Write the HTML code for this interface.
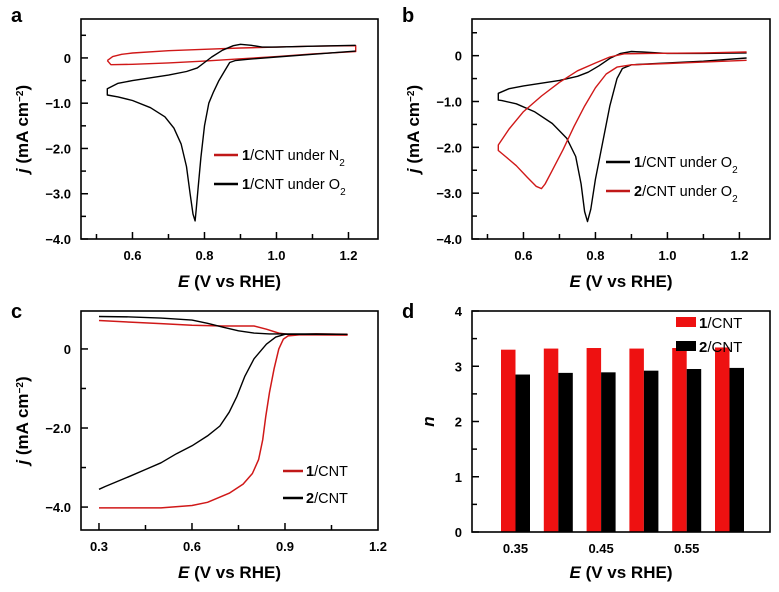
<!DOCTYPE html>
<html><head><meta charset="utf-8"><style>
body{margin:0;background:#fff}
svg text{font-family:"Liberation Sans",Arial,sans-serif}
</style></head><body>
<svg id="fig" width="779" height="587" viewBox="0 0 779 587" xmlns="http://www.w3.org/2000/svg"></svg>
<script>
// ---- data ----
const aN2=[[0.53,-0.06],[0.545,0.03],[0.57,0.08],[0.6,0.11],[0.7,0.16],[0.8,0.19],[0.9,0.22],[1.0,0.24],[1.1,0.26],[1.22,0.27],[1.22,0.14],[1.1,0.09],[1.0,0.03],[0.9,-0.02],[0.8,-0.07],[0.7,-0.11],[0.6,-0.14],[0.54,-0.15],[0.53,-0.06]];
const aO2=[[1.22,0.15],[1.1,0.08],[1.0,0.02],[0.92,-0.03],[0.885,-0.06],[0.87,-0.1],[0.855,-0.3],[0.84,-0.5],[0.825,-0.75],[0.812,-1.0],[0.8,-1.5],[0.79,-2.2],[0.782,-2.9],[0.777,-3.35],[0.774,-3.6],[0.768,-3.45],[0.76,-3.0],[0.75,-2.4],[0.735,-1.9],[0.715,-1.55],[0.69,-1.3],[0.65,-1.1],[0.6,-0.94],[0.56,-0.86],[0.53,-0.82],[0.53,-0.68],[0.56,-0.56],[0.6,-0.5],[0.65,-0.44],[0.7,-0.38],[0.75,-0.3],[0.78,-0.22],[0.8,-0.1],[0.82,0.02],[0.85,0.17],[0.88,0.27],[0.9,0.3],[0.93,0.28],[0.96,0.24],[1.0,0.24],[1.1,0.26],[1.22,0.28]];
const bO2_1=[[1.22,-0.05],[1.1,-0.12],[1.0,-0.16],[0.9,-0.2],[0.875,-0.28],[0.86,-0.5],[0.84,-1.1],[0.82,-1.9],[0.8,-2.7],[0.787,-3.35],[0.778,-3.62],[0.77,-3.4],[0.76,-2.8],[0.745,-2.2],[0.72,-1.8],[0.68,-1.48],[0.63,-1.22],[0.58,-1.05],[0.54,-0.98],[0.53,-0.97],[0.53,-0.82],[0.56,-0.72],[0.6,-0.66],[0.65,-0.6],[0.7,-0.54],[0.75,-0.45],[0.78,-0.36],[0.81,-0.22],[0.84,-0.06],[0.87,0.05],[0.9,0.09],[0.93,0.08],[1.0,0.05],[1.1,0.05],[1.22,0.06]];
const bO2_2=[[1.22,-0.1],[1.1,-0.14],[1.0,-0.17],[0.9,-0.2],[0.86,-0.25],[0.83,-0.4],[0.8,-0.7],[0.77,-1.1],[0.74,-1.55],[0.71,-2.05],[0.68,-2.5],[0.66,-2.8],[0.65,-2.9],[0.635,-2.85],[0.61,-2.65],[0.58,-2.4],[0.55,-2.2],[0.53,-2.07],[0.53,-1.95],[0.56,-1.6],[0.6,-1.22],[0.65,-0.88],[0.7,-0.58],[0.75,-0.33],[0.8,-0.16],[0.84,-0.03],[0.88,0.04],[0.95,0.05],[1.1,0.06],[1.22,0.08]];
const c1=[[0.3,0.72],[0.4,0.68],[0.5,0.64],[0.6,0.6],[0.7,0.58],[0.8,0.58],[0.84,0.5],[0.88,0.4],[0.92,0.36],[1.0,0.38],[1.1,0.37],[1.1,0.35],[0.95,0.36],[0.91,0.33],[0.895,0.25],[0.88,0.0],[0.865,-0.5],[0.85,-1.1],[0.838,-1.7],[0.828,-2.3],[0.815,-2.8],[0.795,-3.15],[0.765,-3.42],[0.72,-3.65],[0.65,-3.88],[0.6,-3.96],[0.5,-4.02],[0.4,-4.02],[0.3,-4.02]];
const c2=[[0.3,0.82],[0.4,0.81],[0.5,0.78],[0.6,0.73],[0.65,0.65],[0.7,0.55],[0.75,0.46],[0.8,0.4],[0.85,0.38],[0.9,0.38],[1.0,0.38],[1.1,0.37],[0.9,0.37],[0.87,0.3],[0.84,0.12],[0.8,-0.25],[0.77,-0.7],[0.745,-1.2],[0.72,-1.6],[0.69,-1.95],[0.65,-2.2],[0.6,-2.45],[0.55,-2.65],[0.5,-2.88],[0.45,-3.05],[0.4,-3.22],[0.35,-3.38],[0.32,-3.48],[0.3,-3.55]];
const dCats=["0.35","0.40","0.45","0.50","0.55","0.60"];
const dRed=[3.30,3.32,3.33,3.32,3.33,3.34];
const dBlack=[2.85,2.88,2.89,2.92,2.95,2.97];
const cvYTicks=["0","−1.0","−2.0","−3.0","−4.0"];
const cvXTicks=["0.6","0.8","1.0","1.2"];

const NS="http://www.w3.org/2000/svg";
const svg=document.getElementById('fig');
function mk(tag,attrs,parent){const e=document.createElementNS(NS,tag);for(const k in attrs)e.setAttribute(k,attrs[k]);(parent||svg).appendChild(e);return e;}
function txt(x,y,s,size,anchor,parent,weight){const t=mk('text',{x:x,y:y,'font-size':size,'text-anchor':anchor||'middle','font-weight':weight||'bold',fill:'#000'},parent);t.innerHTML=s;return t;}
function scale(d0,d1,p0,p1){return v=>p0+(v-d0)*(p1-p0)/(d1-d0);}

function frame(g,L,T,R,B){mk('rect',{x:L,y:T,width:R-L,height:B-T,fill:'none',stroke:'#000','stroke-width':1.6},g);}
function line(g,pts,X,Y,col,w){const d=pts.map((p,i)=>(i?'L':'M')+X(p[0]).toFixed(1)+','+Y(p[1]).toFixed(1)).join('');return mk('path',{d:d,fill:'none',stroke:col,'stroke-width':w||1.4,'stroke-linejoin':'round'},g);}

function cvPanel(name,letter,L,T,R,B,ymin,ymax,xmin,xmax,series,legend,legX,legY){
  const g=mk('g',{});
  
  
  const X=scale(xmin,xmax,L,R),Y=scale(ymin,ymax,B,T);
  const lt=txt(L-70,T+3,letter,20,'start',g);
  for(let v=-4;v<=0.51;v+=0.5){const y=Y(v);const maj=Math.abs(v-Math.round(v))<1e-6;mk('line',{x1:L,x2:L+(maj?7:5),y1:y,y2:y,stroke:'#000','stroke-width':1.5},g);}
  cvYTicks.forEach((s,i)=>{const t=txt(L-10,Y(-i)+5,s,13,'end',g);});
  for(let v=0.5;v<=1.21;v+=0.1){const x=X(v);const maj=Math.round(v*10)%2===0;mk('line',{x1:x,x2:x,y1:B,y2:B-(maj?7:5),stroke:'#000','stroke-width':1.5},g);}
  cvXTicks.forEach(s=>{const t=txt(X(parseFloat(s)),B+21,s,13,'middle',g);});
  series.forEach(s=>{const p=line(g,s.pts,X,Y,s.col,1.4);});
  frame(g,L,T,R,B);
  const xt=txt((L+R)/2,B+48,'<tspan font-style="italic">E</tspan> (V vs RHE)',17,'middle',g);
  const yt=txt(0,0,'<tspan font-style="italic">j</tspan> (mA cm<tspan baseline-shift="super" font-size="10">−2</tspan>)',17,'middle',g);
  yt.setAttribute('transform','translate('+(L-53)+','+((T+B)/2)+') rotate(-90)');
  
  legend.forEach((e,i)=>{const y=legY+i*29;const lg=mk('g',{},g);
    mk('line',{x1:legX,x2:legX+24,y1:y,y2:y,stroke:e.col,'stroke-width':2.4},lg);
    txt(legX+28,y+5,e.label,14.5,'start',lg,'normal');});
}

cvPanel('panel-a','a',81,19,378,239,-4,0.86,0.457,1.282,
  [{pts:aN2,col:'#d01818',name:'n2-curve'},{pts:aO2,col:'#000',name:'o2-curve'}],
  [{col:'#c01818',label:'<tspan font-weight="bold">1</tspan>/CNT under N<tspan baseline-shift="sub" font-size="10">2</tspan>'},{col:'#000',label:'<tspan font-weight="bold">1</tspan>/CNT under O<tspan baseline-shift="sub" font-size="10">2</tspan>'}],214,155);
cvPanel('panel-b','b',472,19,770,239,-4,0.8,0.457,1.285,
  [{pts:bO2_1,col:'#000',name:'cnt1-o2-curve'},{pts:bO2_2,col:'#d01818',name:'cnt2-o2-curve'}],
  [{col:'#000',label:'<tspan font-weight="bold">1</tspan>/CNT under O<tspan baseline-shift="sub" font-size="10">2</tspan>'},{col:'#c01818',label:'<tspan font-weight="bold">2</tspan>/CNT under O<tspan baseline-shift="sub" font-size="10">2</tspan>'}],606,162);

// panel c
const cYTicks=["0","−2.0","−4.0"];
const cXTicks=["0.3","0.6","0.9","1.2"];
(function(){
  const L=81,T=311,R=378,B=530;
  const g=mk('g',{});
  
  
  const X=scale(0.242,1.2,L,R),Y=scale(-4.58,0.96,B,T);
  const lt=txt(L-70,T+7,'c',20,'start',g);
  for(let v=-4;v<=0.01;v+=1){mk('line',{x1:L,x2:L+(v%2===0?7:5),y1:Y(v),y2:Y(v),stroke:'#000','stroke-width':1.5},g);}
  cYTicks.forEach((s,i)=>{const t=txt(L-10,Y(-2*i)+5,s,13,'end',g);});
  for(let v=0.3;v<=1.16;v+=0.15){const maj=Math.round(v*100)%30===0;mk('line',{x1:X(v),x2:X(v),y1:B,y2:B-(maj?7:5),stroke:'#000','stroke-width':1.5},g);}
  cXTicks.forEach(s=>{const t=txt(X(parseFloat(s)),B+21,s,13,'middle',g);});
  const p1=line(g,c1,X,Y,'#d01818',1.5);
  const p2=line(g,c2,X,Y,'#000',1.4);
  frame(g,L,T,R,B);
  const xt=txt((L+R)/2,B+48,'<tspan font-style="italic">E</tspan> (V vs RHE)',17,'middle',g);
  const yt=txt(0,0,'<tspan font-style="italic">j</tspan> (mA cm<tspan baseline-shift="super" font-size="10">−2</tspan>)',17,'middle',g);
  yt.setAttribute('transform','translate('+(L-53)+','+((T+B)/2)+') rotate(-90)');
  
  [{col:'#c01818',l:'1'},{col:'#000',l:'2'}].forEach((e,i)=>{const y=471+i*27;const lg=mk('g',{},g);
    mk('line',{x1:283,x2:303,y1:y,y2:y,stroke:e.col,'stroke-width':2.4},lg);
    txt(306,y+5,'<tspan font-weight="bold">'+e.l+'</tspan>/CNT',14.5,'start',lg,'normal');});
})();

// panel d
const dYTicks=["0","1","2","3","4"];
const dXTicks=["0.35","0.45","0.55"];
(function(){
  const L=472,T=311,R=770,B=532;
  const g=mk('g',{});
  
  
  const Y=scale(0,4,B,T);
  const bw=14.5,gap=42.8,x0=501;
  const X=i=>x0+i*gap;
  const lt=txt(L-70,T+7,'d',20,'start',g);
  dCats.forEach((c,i)=>{
    const r=mk('rect',{x:X(i),y:Y(dRed[i]),width:bw,height:B-Y(dRed[i]),fill:'#ee1111'},g);
    
    
    const k=mk('rect',{x:X(i)+bw,y:Y(dBlack[i]),width:bw,height:B-Y(dBlack[i]),fill:'#000'},g);
    
    
  });
  for(let v=0;v<=4;v+=0.5){mk('line',{x1:L,x2:L+(v%1===0?7:5),y1:Y(v),y2:Y(v),stroke:'#000','stroke-width':1.5},g);}
  dYTicks.forEach(s=>{const t=txt(L-10,Y(+s)+5,s,13,'end',g);});
  dXTicks.forEach(s=>{const i=dCats.indexOf(s);const t=txt(X(i)+bw,B+21,s,13,'middle',g);});
  frame(g,L,T,R,B);
  const xt=txt((L+R)/2,B+46,'<tspan font-style="italic">E</tspan> (V vs RHE)',17,'middle',g);
  const yt=txt(0,0,'n',17,'middle',g);yt.setAttribute('font-style','italic');
  yt.setAttribute('transform','translate('+(L-38)+','+((T+B)/2)+') rotate(-90)');
  
  [{col:'#ee1111',l:'1'},{col:'#000',l:'2'}].forEach((e,i)=>{const y=322+i*24;const lg=mk('g',{},g);
    mk('rect',{x:676,y:y-5,width:20,height:10,fill:e.col},lg);
    txt(699,y+6,'<tspan font-weight="bold">'+e.l+'</tspan>/CNT',15,'start',lg,'normal');});
})();
</script>
</body></html>
